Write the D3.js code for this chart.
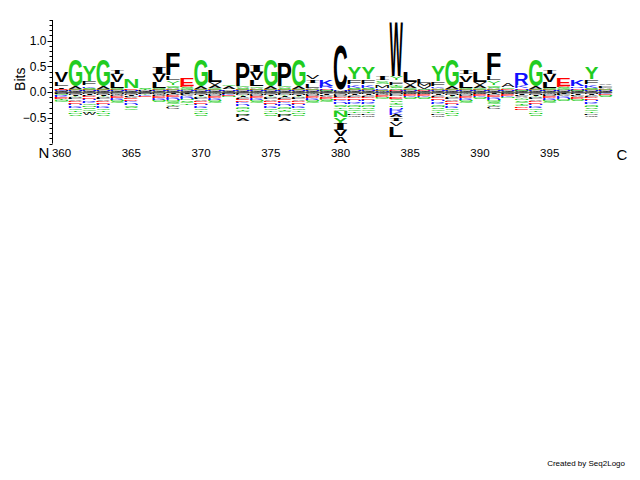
<!DOCTYPE html>
<html><head><meta charset="utf-8">
<script src="https://cdn.jsdelivr.net/npm/d3@7"></script>
<style>body{margin:0;background:#fff} svg{display:block}</style>
</head><body><svg id="c" width="640" height="480"></svg>
<script>
// ---- data ----
const positions = [360,361,362,363,364,365,366,367,368,369,370,371,372,373,374,375,376,377,378,379,
                   380,381,382,383,384,385,386,387,388,389,390,391,392,393,394,395,396,397,398,399];
const xTickLabels = [360,365,370,375,380,385,390,395];
const yTickLabels = [-0.5,0.0,0.5,1.0];
const yMinorTicks = [-1.0,-0.9,-0.8,-0.7,-0.6,-0.5,-0.4,-0.3,-0.2,-0.1,0.0,0.1,0.2,0.3,0.4,0.5,0.6,0.7,0.8,0.9,1.0,1.1,1.2,1.3,1.4];
// positive stacks: bottom -> top, letter + hundredths of bits
const posStacks = [
 "W1 C1 M1 K1 D1 E1 I5 L9 V19",
 "W1 C1 M1 H1 D1 Q1 A6 G50",
 "W1 C1 M1 H1 E1 Q1 A1 S1 K4 F9 Y29",
 "W1 C1 M1 H1 E1 Q1 A6 G50",
 "W1 C1 M1 H1 D1 Q1 A1 G1 L12 V14 I10",
 "W1 C1 M1 H1 E4 N17",
 "W1 C1 H1 M1 T1 S4",
 "W1 C1 M1 H1 D1 Q1 A1 G1 L12 V14 I12",
 "W1 C1 M1 H1 D1 Q1 A2 S2 G2 Y10 L11 F42",
 "W1 C1 M1 H1 Q1 A1 G1 S2 D3 E15",
 "W1 C1 M1 H1 D1 Q1 A6 G50",
 "W1 C1 M1 H1 D1 Q1 G1 A5 V8 L21",
 "W1 C1 M1 H1 A8 G4",
 "W1 C1 M1 H1 D1 Q1 S2 A2 G2 P44",
 "W1 C1 M1 H1 D1 Q1 A2 G3 L13 V15 I13",
 "W1 C1 M1 H1 D1 Q1 A6 G51",
 "W1 C1 M1 H1 D1 Q1 S2 A2 G2 P44",
 "W1 C1 M1 H1 D1 Q1 A6 G51",
 "W1 C1 M1 H1 D1 Q1 A1 L10 I6 V10",
 "W1 C1 M1 Q1 D1 H2 R5 K13",
 "W1 M1 H1 A1 C87",
 "W1 C1 M1 H1 D1 Q1 A1 S1 K6 F11 Y21",
 "W1 C1 M1 H1 D1 Q1 A1 S1 K6 F11 Y21",
 "W1 H1 D1 Q1 A1 K1 M8 S8 I11",
 "C1 M1 H1 D1 Q1 A2 S2 G2 T2 F8 Y11 W105",
 "W1 C1 M1 H1 D1 Q1 G1 A5 V8 L20",
 "W1 C1 H1 D1 Q1 A1 V5 M6 L10",
 "W1 C1 M1 H1 D1 Q1 A1 K4 F10 Y29",
 "W1 C1 M1 H1 D1 Q1 A6 G51",
 "W1 C1 M1 H1 D1 Q1 A1 G1 L12 V13 I10",
 "W1 C1 M1 H1 D1 Q1 G1 A5 V8 L20",
 "W1 C1 M1 H1 D1 Q1 A2 S2 G2 Y10 L11 F42",
 "W1 C1 M1 H1 D1 G3 A10",
 "W1 C1 M1 Q1 D1 H2 K7 R22",
 "W1 C1 M1 H1 D1 Q1 A6 G51",
 "W1 C1 M1 H1 D1 Q1 A1 G1 L12 V14 I10",
 "W1 C1 M1 H1 Q1 A1 G1 S2 D3 E15",
 "W1 C1 M1 Q1 D1 H2 R4 K12",
 "W1 C1 M1 H1 D1 Q1 A1 S1 K6 F11 Y21",
 "W1 C1 M1 H1 D1 Q1 A1 L3 F3 V3"
];
// negative stacks: from zero downward
const negStacks = [
 "H1 P1 F1 M1 Q2 R2 K2 E2 D2 T2 N2 G2",
 "F1 W1 C1 M2 I2 Y2 P2 L3 V3 D3 E3 H3 K3 R3 Q3 T4 N4 S5",
 "C1 M2 I2 L2 D3 E3 H3 R3 K3 Q3 N4 S4 G4 T4 W5",
 "F1 W1 C1 M2 I2 Y2 P2 L3 V3 D3 E3 H3 K3 R3 Q3 T4 N4 S5",
 "F1 Y1 M1 W2 P2 D2 E2 K2 R2 N2 S2 G2",
 "F1 W1 C1 M2 I2 L2 V2 E3 D3 K3 R3 H3 Q3 S3 G4",
 "W1 C1 M1 F1 Y2 K2 E2",
 "F1 Y1 M1 W2 P2 D2 E2 K2 R2 N2 S2",
 "W1 M1 I1 P2 D2 E2 K2 R2 H2 N2 Q2 S2 G3 T3 C6",
 "W1 C1 F1 I1 L2 V2 K2 R2 H2 N2 S3 G3 T3",
 "F1 W1 C1 M2 I2 Y2 P2 L3 V3 D3 E3 H3 K3 R3 Q3 T4 N4 S4",
 "F1 Y1 W1 M2 P2 E2 D2 K2 R2 N2 S2 G2",
 "W1 C1 F1 M1 K2 E2 N2",
 "W1 C1 F1 M2 Y2 I2 V2 L2 E3 D3 K3 R3 H3 Q3 N3 T3 S3 G5 P5 A8",
 "F1 Y1 W1 M2 P2 E2 D2 K2 R2 N2 S2 G2",
 "F1 W1 C1 M2 I2 Y2 P2 L3 V3 D3 E3 H3 K3 R3 Q3 T4 N4 S4",
 "W1 C1 F1 M2 Y2 I2 V2 L2 E3 D3 K3 R3 H3 Q3 N3 T3 S3 G5 P5 A8",
 "F1 W1 C1 M2 I2 Y2 P2 L3 V3 D3 E3 H3 K3 R3 Q3 T4 N4 S4",
 "F1 Y1 W1 M2 P2 E2 D2 K2 R2 N2 S2 G2",
 "W1 C1 F1 I2 L2 V2 E2 D2 N2 S2 G2",
 "W1 F1 C1 M2 P2 L2 D3 E3 K3 R3 H3 Q3 S3 T3 G4 N12 Y12 I12 V12 A13",
 "C1 M2 I2 V2 L2 D3 E3 H3 R3 K3 Q3 N3 S3 G4 T4 P3 W4",
 "C1 M2 I2 V2 L2 D3 E3 H3 R3 K3 Q3 N3 S3 G4 T4 P3 W4",
 "F1 Y1 W1 P2 E2 D2 N2 G2",
 "W1 C1 M2 F2 P2 D3 E3 Q3 S3 T3 G3 N3 H4 R6 K6 A5 I7 V11 L19",
 "F1 Y1 W1 P1 E2 D2 K2 N2 S2",
 "F1 Y1 W1 P1 E2 D2 K2 N2 S2",
 "C1 M2 I2 V2 L2 D3 E3 H3 R3 K3 Q3 N3 S3 G4 T4 P3 W4",
 "F1 W1 C1 M2 I2 Y2 P2 L3 V3 D3 E3 H3 K3 R3 Q3 T4 N4 S3",
 "F1 Y1 W1 M2 P2 E2 D2 K2 R2 N2 S2 G2",
 "F1 Y1 W1 P1 E2 D2 K2 N2 S2",
 "W1 M1 I1 P2 D2 E2 K2 R2 H2 N2 Q2 S2 G3 T3 C6",
 "F1 Y1 W1 P1 E2 D2 K2 N2",
 "W1 C1 F1 I2 L2 V2 A2 Y2 N3 S3 G3 T3 Q3 D4 E4",
 "F1 W1 C1 M2 I2 Y2 P2 L3 V3 D3 E3 H3 K3 R3 Q3 T4 N4 S4",
 "F1 Y1 W1 M2 P2 E2 D2 K2 R2 N2 S2 G2",
 "W1 C1 F1 I1 L2 V2 K2 R2 H2 N2 S2",
 "W1 C1 F1 I2 L2 V2 E2 D2 N2 S2",
 "C1 M2 I2 V2 L2 D3 E3 H3 R3 K3 Q3 N3 S3 G4 T4 P3 W4",
 "F1 W1 K2 E2 N2 S2"
];

// ---- drawing ----
const svg = d3.select("#c");
const x = d3.scaleLinear().domain([360, 399]).range([61.5, 605.5]);
const y = d3.scaleLinear().domain([-1, 1.4]).range([143.6, 20]);
const colW = 13.4;

const GREEN = "#21cc21", RED = "#ff0000", BLUE = "#1010ff", BLACK = "#000000";
function colorOf(l){
  if ("DE".includes(l)) return RED;
  if ("KRH".includes(l)) return BLUE;
  if ("GSTYNQ".includes(l)) return GREEN;
  return BLACK;
}
function fontFor(l){ return l === "I" ? '"Liberation Serif", serif' : '"Liberation Sans", Arial, Helvetica, sans-serif'; }
const mctx = document.createElement("canvas").getContext("2d");
const cache = {};
function ink(l, w){
  const k = l + w;
  if (cache[k]) return cache[k];
  mctx.font = `${w} 100px ${fontFor(l)}`;
  const m = mctx.measureText(l);
  return cache[k] = {l: m.actualBoundingBoxLeft, r: m.actualBoundingBoxRight, a: m.actualBoundingBoxAscent, d: m.actualBoundingBoxDescent};
}
const parse = s => s.split(" ").map(t => ({letter: t[0], bits: +t.slice(1) / 100}));

const glyphs = [];
positions.forEach((p, i) => {
  let cum = 0;
  parse(posStacks[i]).forEach(g => {
    glyphs.push({p, letter: g.letter, top: y(cum + g.bits), bottom: y(cum)});
    cum += g.bits;
  });
  cum = 0;
  parse(negStacks[i]).forEach(g => {
    glyphs.push({p, letter: g.letter, top: y(-cum), bottom: y(-(cum + g.bits))});
    cum += g.bits;
  });
});
glyphs.forEach(d => {
  const h = d.bottom - d.top;
  d.small = h < 6;
  d.weight = d.small ? "normal" : "bold";
  const inkH = d.small ? Math.max(1, h * 0.7) : h;
  d.y0 = d.top + (h - inkH) / 2;
  d.h = inkH;
});

svg.append("g").selectAll("text").data(glyphs).join("text")
  .attr("font-family", d => fontFor(d.letter))
  .attr("font-weight", d => d.weight)
  .attr("font-size", 100)
  .attr("fill", d => colorOf(d.letter))
  .attr("transform", d => {
    const m = ink(d.letter, d.weight);
    const sx = colW / (m.l + m.r), sy = d.h / (m.a + m.d);
    return `translate(${x(d.p) - colW / 2},${d.y0}) scale(${sx},${sy}) translate(${m.l},${m.a})`;
  })
  .text(d => d.letter);

// zero baseline
svg.append("line")
  .attr("x1", x(360) - colW / 2).attr("x2", x(399) + colW / 2)
  .attr("y1", y(0) + 0.5).attr("y2", y(0) + 0.5)
  .attr("stroke", "#555").attr("stroke-width", 1.5).attr("opacity", 0.8);

// y axis
const ax = svg.append("g").attr("transform", "translate(52.5,0)");
ax.append("line").attr("x1", 0).attr("x2", 0).attr("y1", y(1.4)).attr("y2", y(-1)).attr("stroke", "#000");
ax.selectAll(".mn").data(yMinorTicks).join("line")
  .attr("x1", -3).attr("x2", 0).attr("y1", d => Math.round(y(d)) + 0.5).attr("y2", d => Math.round(y(d)) + 0.5).attr("stroke", "#000");
ax.selectAll(".mj").data(yTickLabels).join("line")
  .attr("x1", -5).attr("x2", 0).attr("y1", d => Math.round(y(d)) + 0.5).attr("y2", d => Math.round(y(d)) + 0.5).attr("stroke", "#000");
ax.selectAll(".lb").data(yTickLabels).join("text")
  .attr("x", -6).attr("y", d => y(d)).attr("dy", "0.35em").attr("text-anchor", "end")
  .attr("font-family", "Liberation Sans, Arial, sans-serif").attr("font-size", 12).attr("fill", "#000")
  .text(d => d3.format(".1f")(d));
svg.append("text").attr("transform", `translate(25,${y(0.25)}) rotate(-90)`).attr("text-anchor", "middle")
  .attr("font-family", "Liberation Sans, Arial, sans-serif").attr("font-size", 14).text("Bits");

// x labels
svg.append("g").selectAll("text").data(xTickLabels).join("text")
  .attr("x", d => x(d)).attr("y", 157).attr("text-anchor", "middle")
  .attr("font-family", "Liberation Sans, Arial, sans-serif").attr("font-size", 11.5).text(d => d);
svg.append("text").attr("x", 44).attr("y", 158).attr("text-anchor", "middle")
  .attr("font-family", "Liberation Sans, Arial, sans-serif").attr("font-size", 15).text("N");
svg.append("text").attr("x", 622).attr("y", 160).attr("text-anchor", "middle")
  .attr("font-family", "Liberation Sans, Arial, sans-serif").attr("font-size", 15).text("C");
svg.append("text").attr("x", 625).attr("y", 466).attr("text-anchor", "end")
  .attr("font-family", "Liberation Sans, Arial, sans-serif").attr("font-size", 8).text("Created by Seq2Logo");
</script></body></html>
